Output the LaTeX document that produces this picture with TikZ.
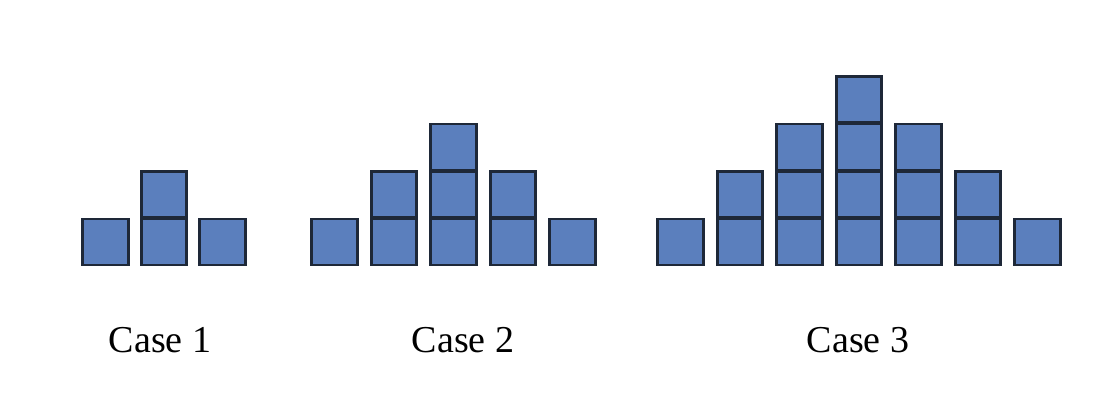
\documentclass[tikz,border=0pt]{standalone}
\usepackage{fontspec}
\setmainfont{Liberation Serif}
\usetikzlibrary{positioning}
\definecolor{tileblue}{HTML}{5B7FBD}
\definecolor{tileedge}{HTML}{1E2838}
\tikzset{
	x=1pt, y=-1pt, % one unit is one pixel of the reference
	tile/.style={draw=tileedge, fill=tileblue, line width=2.6pt, minimum width=45.5pt, minimum height=46pt, inner sep=0pt}, % one square
	caselabel/.style={font=\fontsize{38}{44}\selectfont, text=black}, % text under each case
}

\begin{document}
\begin{tikzpicture}
		\useasboundingbox (0,0) rectangle (1102,408);
		% Case 1
		\foreach \h [count=\i] in {1,2,1} {
			\foreach \r in {1,...,\h}
				\node[tile] (c1-\i-\r) at ({105.5+(\i-1)*58.5},{242-(\r-1)*47.5}) {};
		}
		% Case 2
		\foreach \h [count=\i] in {1,2,3,2,1} {
			\foreach \r in {1,...,\h}
				\node[tile] (c2-\i-\r) at ({334.5+(\i-1)*59.5},{242-(\r-1)*47.5}) {};
		}
		% Case 3
		\foreach \h [count=\i] in {1,2,3,4,3,2,1} {
			\foreach \r in {1,...,\h}
				\node[tile] (c3-\i-\r) at ({680.5+(\i-1)*59.5},{242-(\r-1)*47.5}) {};
		}
		
		\node[caselabel] (lab1) at (160,340) {Case 1};
		\node[caselabel] (lab2) at (463,340) {Case 2};
		\node[caselabel] (lab3) at (858,340) {Case 3};
		\end{tikzpicture}
\end{document}
